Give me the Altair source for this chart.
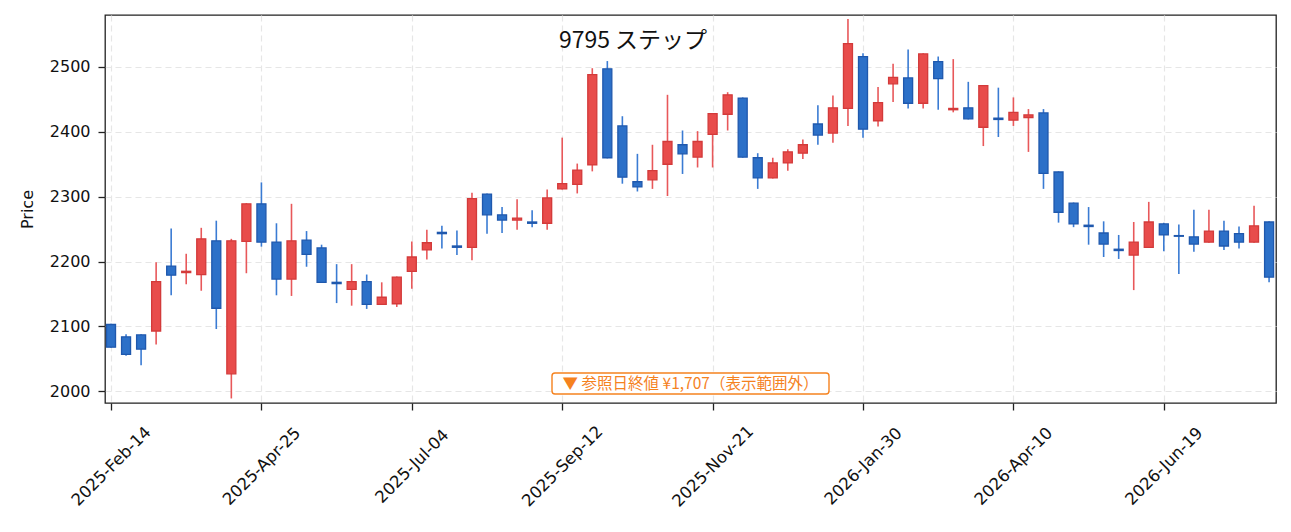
import altair as alt
import pandas as pd

# ---- data ----
start_date = "2025-02-14"
n_weeks = 78
opens = [2103, 2084, 2087, 2093, 2193, 2183, 2180, 2232, 2027, 2231,
         2289, 2230, 2173, 2233, 2221, 2168, 2157, 2169, 2134, 2135,
         2185, 2218, 2245, 2224, 2222, 2304, 2272, 2264, 2261, 2259,
         2312, 2319, 2349, 2497, 2409, 2323, 2326, 2350, 2380, 2361,
         2396, 2427, 2452, 2360, 2329, 2352, 2367, 2412, 2398, 2436,
         2516, 2417, 2474, 2483, 2444, 2508, 2434, 2437, 2407, 2421,
         2418, 2422, 2429, 2338, 2290, 2256, 2244, 2219, 2210, 2222,
         2258, 2240, 2238, 2230, 2247, 2243, 2230, 2261]
highs = [2104, 2088, 2088, 2199, 2251, 2212, 2252, 2263, 2235, 2290,
         2322, 2259, 2289, 2247, 2226, 2196, 2196, 2180, 2168, 2177,
         2231, 2249, 2255, 2248, 2306, 2305, 2284, 2296, 2279, 2311,
         2391, 2351, 2498, 2509, 2424, 2366, 2380, 2457, 2402, 2401,
         2429, 2461, 2453, 2367, 2360, 2373, 2388, 2441, 2456, 2574,
         2521, 2469, 2505, 2527, 2521, 2516, 2512, 2477, 2472, 2468,
         2453, 2435, 2435, 2339, 2291, 2284, 2262, 2241, 2261, 2292,
         2260, 2257, 2280, 2280, 2263, 2254, 2286, 2262]
lows = [2067, 2055, 2040, 2072, 2148, 2165, 2155, 2096, 1989, 2182,
        2223, 2148, 2147, 2192, 2167, 2136, 2132, 2127, 2134, 2130,
        2158, 2203, 2220, 2210, 2202, 2243, 2244, 2249, 2253, 2249,
        2311, 2305, 2339, 2359, 2320, 2308, 2312, 2301, 2335, 2345,
        2345, 2402, 2360, 2312, 2328, 2340, 2358, 2380, 2383, 2409,
        2391, 2408, 2446, 2436, 2436, 2434, 2430, 2419, 2378, 2392,
        2409, 2369, 2312, 2260, 2253, 2226, 2207, 2204, 2156, 2221,
        2216, 2181, 2215, 2229, 2218, 2220, 2229, 2168]
closes = [2068, 2057, 2065, 2169, 2179, 2185, 2235, 2128, 2232, 2289,
          2230, 2173, 2232, 2211, 2168, 2166, 2169, 2134, 2145, 2176,
          2207, 2229, 2243, 2222, 2297, 2272, 2264, 2267, 2259, 2298,
          2320, 2341, 2488, 2360, 2330, 2315, 2340, 2385, 2366, 2385,
          2428, 2457, 2361, 2329, 2352, 2369, 2380, 2395, 2437, 2536,
          2404, 2445, 2484, 2444, 2520, 2482, 2436, 2420, 2471, 2419,
          2430, 2426, 2336, 2276, 2258, 2254, 2227, 2217, 2230, 2261,
          2241, 2239, 2227, 2247, 2224, 2230, 2255, 2176]
tick_dates = ["2025-02-14", "2025-04-25", "2025-07-04", "2025-09-12",
              "2025-11-21", "2026-01-30", "2026-04-10", "2026-06-19"]
y_ticks = [2000, 2100, 2200, 2300, 2400, 2500]
title_text = "9795 ステップ"
note_text = "▼ 参照日終値 ¥1,707（表示範囲外）"

dates = pd.date_range(start=start_date, periods=n_weeks, freq="7D")
df = pd.DataFrame({
    "date": dates.strftime("%Y-%m-%d"),
    "open": opens, "high": highs, "low": lows, "close": closes,
})
df["dir"] = ["up" if c >= o else "down" for o, c in zip(opens, closes)]


def ms(d):
    return int(pd.Timestamp(d, tz="UTC").value // 10**6)


week_ms = 7 * 24 * 3600 * 1000
x_domain = [ms(dates[0]) - int(0.4 * week_ms), ms(dates[-1]) + int(0.46 * week_ms)]
tick_vals = [ms(d) for d in tick_dates]

FONT = "DejaVu Sans"
CJK = "Noto Sans CJK JP"

x_enc = alt.X("date:T",
              scale=alt.Scale(type="utc", domain=x_domain, nice=False, padding=0),
              axis=alt.Axis(values=tick_vals,
                            labelExpr="utcFormat(datum.value, '%Y-%b-%d')",
                            labelAngle=315, labelAlign="center", labelBaseline="middle",
                            labelPadding=56, labelFontSize=16.5, title=None, grid=True))
y_scale = alt.Scale(domain=[1982, 2580], nice=False, zero=False, padding=0)

base = alt.Chart(df)

wicks = base.mark_rule(strokeWidth=1.6, clip=True).encode(
    x=x_enc,
    y=alt.Y("low:Q", scale=y_scale,
            axis=alt.Axis(values=y_ticks, format="d", title="Price", titleX=-73, titleY=194,
                          titleBaseline="alphabetic", titleAngle=270,
                          titleFont=FONT, titleFontSize=16, titleFontWeight="normal",
                          titleColor="#111", labelPadding=8, grid=True)),
    y2="high:Q",
    color=alt.Color("dir:N", scale=alt.Scale(domain=["up", "down"],
                                             range=["#e8585a", "#3a7bd3"]), legend=None),
)

bodies = base.mark_bar(size=9, strokeWidth=1.3, clip=True).encode(
    x=x_enc,
    y=alt.Y("open:Q", scale=y_scale),
    y2="close:Q",
    fill=alt.Fill("dir:N", scale=alt.Scale(domain=["up", "down"],
                                           range=["#e84c4b", "#2c70c8"]), legend=None),
    stroke=alt.Stroke("dir:N", scale=alt.Scale(domain=["up", "down"],
                                               range=["#d33a3a", "#1f58ad"]), legend=None),
)

note_df = pd.DataFrame({"t": [note_text]})
note_box = alt.Chart(note_df).mark_rect(
    fill="white", stroke="#f5821f", strokeWidth=1.4, cornerRadius=3
).encode(x=alt.value(447), x2=alt.value(724), y=alt.value(358), y2=alt.value(379))
note_txt = alt.Chart(note_df).mark_text(
    font=CJK, fontSize=15.5, color="#f5821f", align="center", baseline="middle"
).encode(x=alt.value(585.5), y=alt.value(369), text="t:N")

title_df = pd.DataFrame({"t": [title_text]})
title_txt = alt.Chart(title_df).mark_text(
    font=CJK, fontSize=23, color="#111", align="center", baseline="middle"
).encode(x=alt.value(528), y=alt.value(26), text="t:N")

chart = alt.layer(wicks, bodies, note_box, note_txt, title_txt).properties(
    width=1171, height=388,
    background="white",
    autosize=alt.AutoSizeParams(type="none"),
    padding={"left": 97, "top": 7, "right": 7, "bottom": 121},
).configure_view(
    stroke="#222", strokeWidth=1.3
).configure_axis(
    labelFont=FONT, labelFontSize=16, labelColor="#111",
    domain=False, tickColor="#222", tickSize=7, tickWidth=1.3,
    gridColor="#e6e6e6", gridDash=[6, 4], gridWidth=1.2,
)

chart.save("out.html", embed_options={"renderer": "svg", "actions": False})
